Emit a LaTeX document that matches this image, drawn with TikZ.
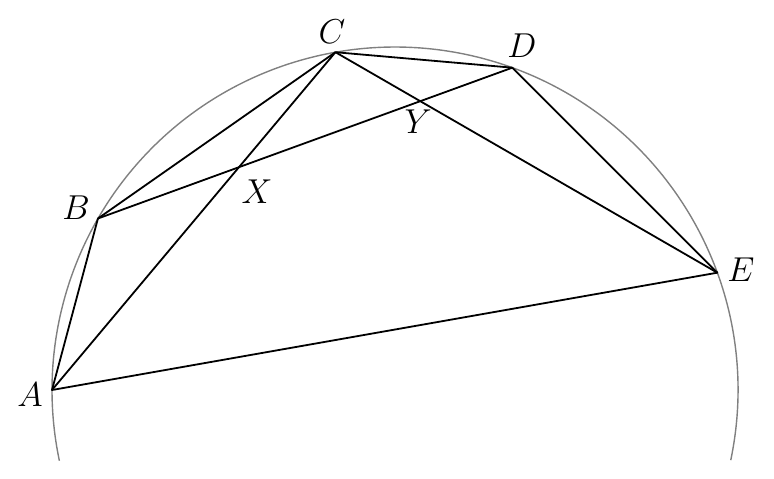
\documentclass[tikz,border=0pt]{standalone}
\begin{document}
\begin{tikzpicture}[x=0.5pt,y=0.5pt,
  seg/.style={black,line width=0.9pt,line join=round},
  circ/.style={gray,line width=0.7pt},
  lbl/.style={inner sep=0pt,font=\fontsize{17}{20}\selectfont}]
\path[use as bounding box] (0,0) rectangle (774,478);
\coordinate (O) at (395,88);
\coordinate (A) at ([shift={(180:343)}]O);
\coordinate (B) at ([shift={(150:343)}]O);
\coordinate (C) at ([shift={(100:343)}]O);
\coordinate (D) at ([shift={(70:343)}]O);
\coordinate (E) at ([shift={(20:343)}]O);
\draw[circ] ([shift={(-11.8:343)}]O) arc[start angle=-11.8,end angle=191.9,radius=343];
\draw[seg] (A) -- (B) -- (C) -- (D) -- (E) -- cycle;
\draw[seg] (A) -- (C);
\draw[seg] (B) -- (D);
\draw[seg] (C) -- (E);
\coordinate (X) at (intersection of B--D and A--C);
\coordinate (Y) at (intersection of B--D and C--E);
\node[lbl] (lA) at (30,83) {$A$};
\node[lbl] (lB) at (76,270) {$B$};
\node[lbl] (lC) at (332,446) {$C$};
\node[lbl] (lD) at (522,432) {$D$};
\node[lbl] (lE) at (741,208) {$E$};
\node[lbl] (lX) at ([shift={(18,-25)}]X) {$X$};
\node[lbl] (lY) at ([shift={(-2,-21)}]Y) {$Y$};
\end{tikzpicture}
\end{document}
